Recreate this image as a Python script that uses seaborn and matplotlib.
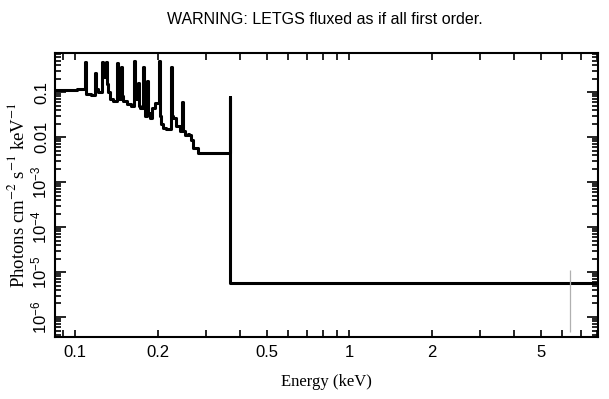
import numpy as np
import pandas as pd
import seaborn as sns
import matplotlib
matplotlib.use('Agg')
import matplotlib.pyplot as plt
from matplotlib.ticker import FixedLocator, FixedFormatter, LogLocator, NullFormatter

# bin edges (keV) and flux per bin
edges = [0.0845, 0.1017, 0.1085, 0.1097, 0.1140, 0.1180, 0.1194, 0.1215, 0.1252,
         0.1267, 0.1275, 0.1295, 0.1310, 0.1320, 0.1345, 0.1380, 0.1420, 0.1437,
         0.1445, 0.1469, 0.1487, 0.1500, 0.1550, 0.1600, 0.1639, 0.1659, 0.1670,
         0.1695, 0.1715, 0.1730, 0.1768, 0.1790, 0.1800, 0.1829, 0.1851, 0.1870,
         0.1910, 0.1960, 0.2023, 0.2048, 0.2060, 0.2100, 0.2150, 0.2238, 0.2265,
         0.2280, 0.2336, 0.2416, 0.2454, 0.2484, 0.2521, 0.2580, 0.2606, 0.2650,
         0.2694, 0.2809, 0.3678, 0.3690, 8.1]
flux = [0.11, 0.12, 0.46, 0.09, 0.085, 0.26, 0.12, 0.10, 0.46,
        0.30, 0.22, 0.46, 0.15, 0.10, 0.07, 0.065, 0.44, 0.18,
        0.07, 0.36, 0.08, 0.065, 0.055, 0.05, 0.49, 0.12,
        0.07, 0.16, 0.05, 0.045, 0.36, 0.06, 0.03, 0.18, 0.035,
        0.026, 0.045, 0.057, 0.49, 0.03, 0.02, 0.016, 0.015, 0.36,
        0.03, 0.026, 0.018, 0.014, 0.06, 0.014, 0.011, 0.012, 0.011,
        0.0085, 0.0057, 0.0044, 0.078, 5.7e-6]

# lone error bar near 6.4 keV
err_x = [6.4]
err_lo = [4.6e-7]
err_hi = [1.1e-5]

xticks_major = [0.1, 0.2, 0.5, 1, 2, 5]
xtick_labels = ['0.1', '0.2', '0.5', '1', '2', '5']
xticks_minor = [0.09, 0.3, 0.4, 0.6, 0.7, 0.8, 0.9, 3, 4, 6, 7, 8]
yticks = [1e-1, 1e-2, 1e-3, 1e-4, 1e-5, 1e-6]
ytick_labels = ['0.1', '0.01', r'$10^{-3}$', r'$10^{-4}$', r'$10^{-5}$', r'$10^{-6}$']

sns.set_style('ticks', rc={'axes.edgecolor': 'black', 'xtick.color': 'black',
                           'ytick.color': 'black', 'text.color': 'black',
                           'axes.labelcolor': 'black'})
plt.rcParams['font.family'] = ['Liberation Sans', 'DejaVu Sans']
plt.rcParams['mathtext.fontset'] = 'custom'
plt.rcParams['mathtext.rm'] = 'Liberation Sans'
plt.rcParams['mathtext.it'] = 'Liberation Sans'

df = pd.DataFrame({'energy': edges, 'flux': flux + [flux[-1]]})

fig = plt.figure(figsize=(6.09, 3.99), dpi=100)
ax = fig.add_axes([55 / 609, 62 / 399, 543 / 609, 284 / 399])

sns.lineplot(data=df, x='energy', y='flux', drawstyle='steps-post', color='black',
             linewidth=2.2, ax=ax, sort=False, estimator=None)
ax.vlines(err_x, err_lo, err_hi, color='#b0b0b0', linewidth=0.9)

ax.set_xscale('log')
ax.set_yscale('log')
ax.set_xlim(0.0845, 8.1)
ax.set_ylim(3.6e-7, 0.74)

ax.xaxis.set_major_locator(FixedLocator(xticks_major))
ax.xaxis.set_major_formatter(FixedFormatter(xtick_labels))
ax.xaxis.set_minor_locator(FixedLocator(xticks_minor))
ax.xaxis.set_minor_formatter(NullFormatter())

ax.yaxis.set_major_locator(FixedLocator(yticks))
ax.yaxis.set_major_formatter(FixedFormatter(ytick_labels))
ax.yaxis.set_minor_locator(LogLocator(base=10, subs=np.arange(2, 10), numticks=20))
ax.yaxis.set_minor_formatter(NullFormatter())
for lab in ax.get_yticklabels():
    lab.set_rotation(90)
    lab.set_va('center')

ax.tick_params(which='both', direction='in', top=True, right=True, width=1.2,
               labelsize=12, color='black', labelcolor='black')
ax.tick_params(axis='x', which='both', length=5, pad=6)
ax.tick_params(axis='y', which='major', length=8, pad=4)
ax.tick_params(axis='y', which='minor', length=4)
for s in ax.spines.values():
    s.set_linewidth(1.5)
    s.set_color('black')

ax.set_xlabel('Energy (keV)', family='Liberation Serif', fontsize=12, labelpad=10)
ax.set_ylabel(r'Photons cm$^{-2}$ s$^{-1}$ keV$^{-1}$', family='Liberation Serif',
              math_fontfamily='stix', fontsize=13.5, labelpad=1)
fig.text(325 / 609, 1 - 20 / 399, 'WARNING: LETGS fluxed as if all first order.',
         ha='center', va='center', fontsize=11.5)

fig.savefig('out.png', dpi=100)
